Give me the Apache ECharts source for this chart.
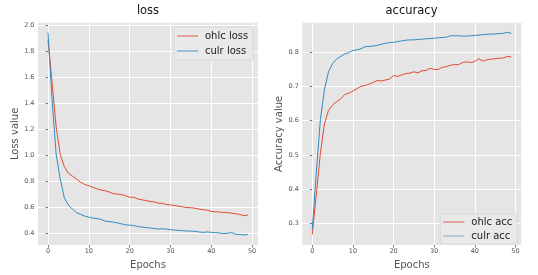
<!DOCTYPE html>
<html><head><meta charset="utf-8">
<script src="https://cdn.jsdelivr.net/npm/echarts@6/dist/echarts.min.js"></script>
<style>html,body{margin:0;padding:0;background:#fff}#c{width:538px;height:275px}</style>
</head><body><div id="c"></div>
<script>
const epochs = [0,1,2,3,4,5,6,7,8,9,10,11,12,13,14,15,16,17,18,19,20,21,22,23,24,25,26,27,28,29,30,31,32,33,34,35,36,37,38,39,40,41,42,43,44,45,46,47,48,49];
const xTicks = [0,10,20,30,40,50];
const lossTicks = [0.4,0.6,0.8,1.0,1.2,1.4,1.6,1.8,2.0];
const accTicks = [0.3,0.4,0.5,0.6,0.7,0.8];
const ohlcLoss = [1.89,1.56,1.22,1.01,0.915,0.865,0.842,0.82,0.795,0.778,0.768,0.757,0.745,0.735,0.73,0.72,0.707,0.705,0.70,0.692,0.68,0.68,0.667,0.66,0.655,0.647,0.644,0.634,0.634,0.624,0.621,0.616,0.611,0.606,0.601,0.599,0.596,0.589,0.584,0.581,0.571,0.568,0.566,0.563,0.561,0.558,0.553,0.548,0.538,0.543];
const culrLoss = [1.945,1.43,1.01,0.82,0.675,0.62,0.588,0.562,0.548,0.535,0.527,0.52,0.516,0.51,0.496,0.493,0.488,0.483,0.475,0.468,0.465,0.463,0.455,0.45,0.448,0.443,0.44,0.435,0.438,0.435,0.43,0.428,0.425,0.423,0.42,0.42,0.418,0.413,0.41,0.413,0.41,0.408,0.405,0.40,0.403,0.408,0.395,0.393,0.39,0.394];
const ohlcAcc = [0.268,0.385,0.505,0.59,0.63,0.645,0.655,0.663,0.676,0.68,0.686,0.693,0.70,0.702,0.706,0.711,0.717,0.715,0.718,0.721,0.731,0.729,0.733,0.737,0.738,0.742,0.739,0.745,0.746,0.752,0.749,0.749,0.755,0.757,0.761,0.763,0.763,0.769,0.771,0.769,0.772,0.78,0.773,0.777,0.779,0.78,0.782,0.782,0.787,0.785];
const culrAcc = [0.283,0.45,0.603,0.69,0.742,0.766,0.779,0.787,0.794,0.798,0.804,0.806,0.809,0.815,0.816,0.817,0.819,0.822,0.825,0.827,0.828,0.83,0.832,0.834,0.835,0.835,0.836,0.837,0.838,0.839,0.84,0.841,0.842,0.843,0.847,0.847,0.847,0.846,0.846,0.847,0.848,0.849,0.85,0.851,0.852,0.852,0.853,0.854,0.857,0.854];

const RED = '#E24A33', BLUE = '#348ABD';
const FONT = 'DejaVu Sans';
const pairs = arr => arr.map((v, i) => [epochs[i], v]);

function xAxis(gi) {
  return {
    type: 'value', gridIndex: gi, min: -2.45, max: 51.45,
    name: 'Epochs', nameLocation: 'middle', nameGap: 9,
    nameTextStyle: {fontFamily: FONT, fontSize: 10, color: '#555'},
    axisLine: {show: false},
    axisTick: {show: true, length: 2.5, lineStyle: {color: '#555', width: 0.8}, customValues: xTicks},
    axisLabel: {fontFamily: FONT, fontSize: 6.5, color: '#555', margin: 3, customValues: xTicks, formatter: v => String(v)},
    splitLine: {show: true, lineStyle: {color: '#fff', width: 1}}
  };
}
function yAxis(gi, name, min, max, ticks) {
  return {
    type: 'value', gridIndex: gi, min: min, max: max,
    name: name, nameLocation: 'middle', nameGap: 14.5,
    nameTextStyle: {fontFamily: FONT, fontSize: 10, color: '#555'},
    axisLine: {show: false},
    axisTick: {show: true, length: 2.5, lineStyle: {color: '#555', width: 0.8}, customValues: ticks},
    axisLabel: {fontFamily: FONT, fontSize: 6.5, color: '#555', margin: 3.5, customValues: ticks, formatter: v => v.toFixed(1)},
    splitLine: {show: true, lineStyle: {color: '#fff', width: 1}}
  };
}
function line(name, data, color, xi, yi) {
  return {
    type: 'line', name: name, xAxisIndex: xi, yAxisIndex: yi, data: pairs(data),
    symbol: 'none', animation: false, silent: true,
    lineStyle: {color: color, width: 1}, itemStyle: {color: color}
  };
}
const legendBase = {
  orient: 'vertical', icon: 'rect', itemWidth: 21, itemHeight: 1.1, itemGap: 3,
  backgroundColor: '#e9e9e9', borderColor: '#d6d6d6', borderWidth: 0.8, borderRadius: 2,
  textStyle: {fontFamily: FONT, fontSize: 10, color: '#222', lineHeight: 12, padding: [0,0,0,2]},
  selectedMode: false
};

const chart = echarts.init(document.getElementById('c'), null, {renderer: 'canvas'});
chart.setOption({
  animation: false,
  backgroundColor: '#fff',
  grid: [
    {left: 38, right: 280, top: 22.7, bottom: 25, show: true, backgroundColor: '#E5E5E5', borderWidth: 0},
    {left: 302.3, right: 16.7, top: 22.7, bottom: 25, show: true, backgroundColor: '#E5E5E5', borderWidth: 0}
  ],
  graphic: [
    {type: 'text', x: 148, y: 11.5, style: {text: 'loss', fontFamily: FONT, fontSize: 11.5, fill: '#111', align: 'center', verticalAlign: 'middle'}},
    {type: 'text', x: 411.5, y: 11.5, style: {text: 'accuracy', fontFamily: FONT, fontSize: 11.5, fill: '#111', align: 'center', verticalAlign: 'middle'}}
  ],
  legend: [
    Object.assign({}, legendBase, {left: 174, top: 27, padding: [3, 5, 3, 3],
      data: [{name: 'ohlc loss', itemStyle: {color: RED, opacity: 0.8}}, {name: 'culr loss', itemStyle: {color: BLUE, opacity: 0.8}}]}),
    Object.assign({}, legendBase, {left: 440.3, top: 214, padding: [2, 5, 2, 3], itemGap: 2,
      data: [{name: 'ohlc acc', itemStyle: {color: RED, opacity: 0.8}}, {name: 'culr acc', itemStyle: {color: BLUE, opacity: 0.55}}]})
  ],
  xAxis: [xAxis(0), xAxis(1)],
  yAxis: [yAxis(0, 'Loss value', 0.312, 2.022, lossTicks), yAxis(1, 'Accuracy value', 0.2375, 0.885, accTicks)],
  series: [
    line('ohlc loss', ohlcLoss, RED, 0, 0),
    line('culr loss', culrLoss, BLUE, 0, 0),
    line('ohlc acc', ohlcAcc, RED, 1, 1),
    line('culr acc', culrAcc, BLUE, 1, 1)
  ]
});
</script></body></html>
